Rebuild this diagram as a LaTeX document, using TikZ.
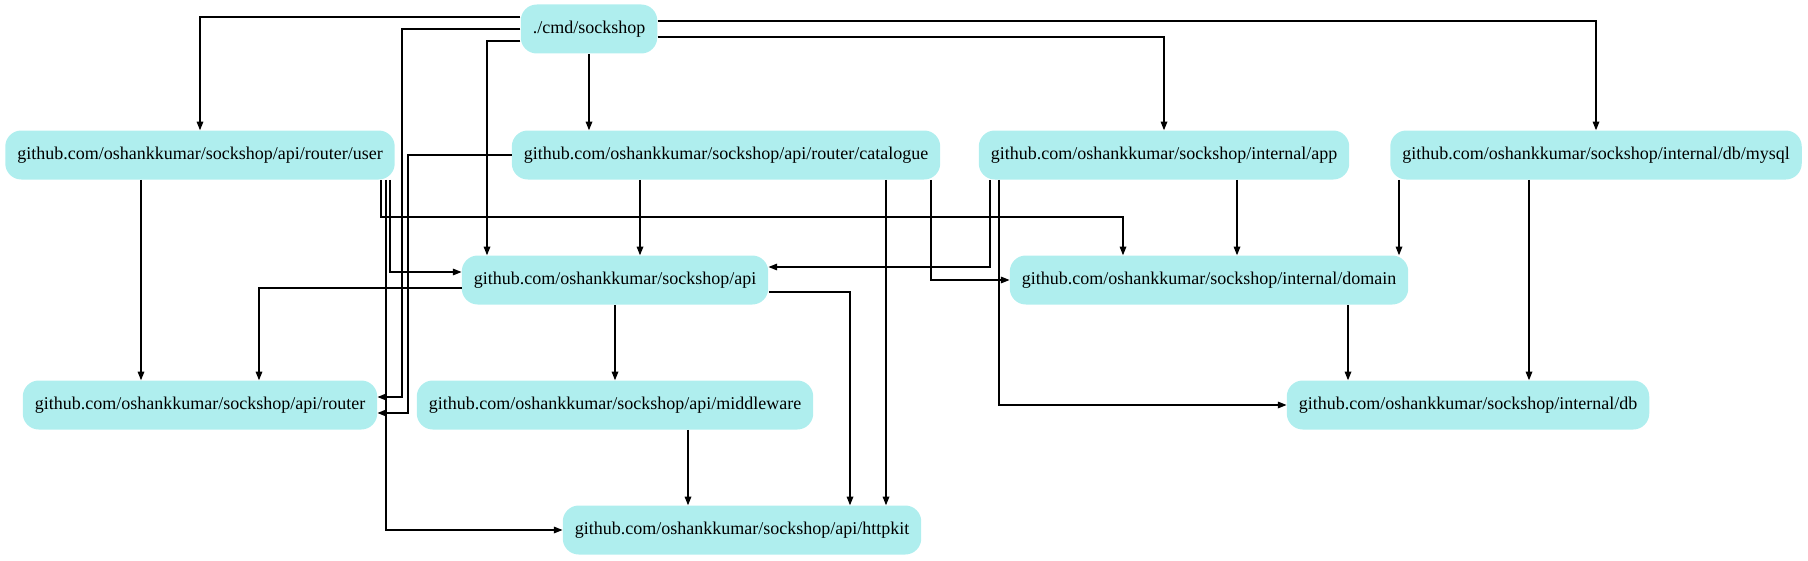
\documentclass[tikz,border=0pt]{standalone}
\usepackage{fontspec}
\setmainfont{Liberation Serif}
\usepackage{xcolor}
\usetikzlibrary{arrows.meta}
\definecolor{pkgfill}{RGB}{175,238,238}

\begin{document}
\begin{tikzpicture}[x=0.75pt, y=-0.75pt, >={Triangle[length=6.5pt,width=5pt]},
        pkg/.style={fill=pkgfill, rounded corners=12pt, minimum height=36.75pt,
            inner xsep=9pt, font=\fontsize{13.5}{16}\selectfont},
        dep/.style={->, line width=0.85pt}]
        \useasboundingbox (0,0) rectangle (1808,560);

        \node [pkg] (cmd) at (589,29) {./cmd/sockshop};

        \node [pkg] (user) at (200,155) {github.com/oshankkumar/sockshop/api/router/user};
        \node [pkg] (catalogue) at (726,155) {github.com/oshankkumar/sockshop/api/router/catalogue};
        \node [pkg] (app) at (1164,155) {github.com/oshankkumar/sockshop/internal/app};
        \node [pkg] (mysql) at (1596,155) {github.com/oshankkumar/sockshop/internal/db/mysql};

        \node [pkg] (api) at (615,280) {github.com/oshankkumar/sockshop/api};
        \node [pkg] (domain) at (1209,280) {github.com/oshankkumar/sockshop/internal/domain};

        \node [pkg] (router) at (200,405) {github.com/oshankkumar/sockshop/api/router};
        \node [pkg] (middleware) at (615,405) {github.com/oshankkumar/sockshop/api/middleware};
        \node [pkg] (db) at (1468,405) {github.com/oshankkumar/sockshop/internal/db};

        \node [pkg] (httpkit) at (742,530) {github.com/oshankkumar/sockshop/api/httpkit};

        % ./cmd/sockshop
        \draw [dep] (cmd.west |- 0,17) -| (user);
        \draw [dep] (cmd.west |- 0,29) -- (402,29) |- (router.east |- 0,397);
        \draw [dep] (cmd.west |- 0,41) -| (api.north -| 487,0);
        \draw [dep] (cmd.south) -- (catalogue.north -| cmd.south);
        \draw [dep] (cmd.east |- 0,37) -| (app);
        \draw [dep] (cmd.east |- 0,21) -| (mysql);

        % router/user
        \draw [dep] (user.south -| 141,0) -- (router.north -| 141,0);
        \draw [dep] (user.south -| 381,0) -- (381,217) -| (domain.north -| 1123,0);
        \draw [dep] (user.south -| 386,0) |- (httpkit);
        \draw [dep] (user.south -| 390,0) |- (api.west |- 0,272);

        % router/catalogue
        \draw [dep] (catalogue.west) -- (408,155) |- (router.east |- 0,413);
        \draw [dep] (catalogue.south -| 640,0) -- (api.north -| 640,0);
        \draw [dep] (catalogue.south -| 886,0) -- (httpkit.north -| 886,0);
        \draw [dep] (catalogue.south -| 931,0) |- (domain);

        % internal/app, internal/db/mysql
        \draw [dep] (app.south -| 990,0) |- (api.east |- 0,267);
        \draw [dep] (app.south -| 999,0) |- (db);
        \draw [dep] (app.south -| 1237,0) -- (domain.north -| 1237,0);
        \draw [dep] (mysql.south -| 1399,0) -- (domain.north -| 1399,0);
        \draw [dep] (mysql.south -| 1529,0) -- (db.north -| 1529,0);
        \draw [dep] (domain.south -| 1348,0) -- (db.north -| 1348,0);

        % api
        \draw [dep] (api.west |- 0,288) -| (router.north -| 259,0);
        \draw [dep] (api) -- (middleware);
        \draw [dep] (api.east |- 0,292) -| (httpkit.north -| 850,0);
        \draw [dep] (middleware.south -| 688,0) -- (httpkit.north -| 688,0);
\end{tikzpicture}
\end{document}
